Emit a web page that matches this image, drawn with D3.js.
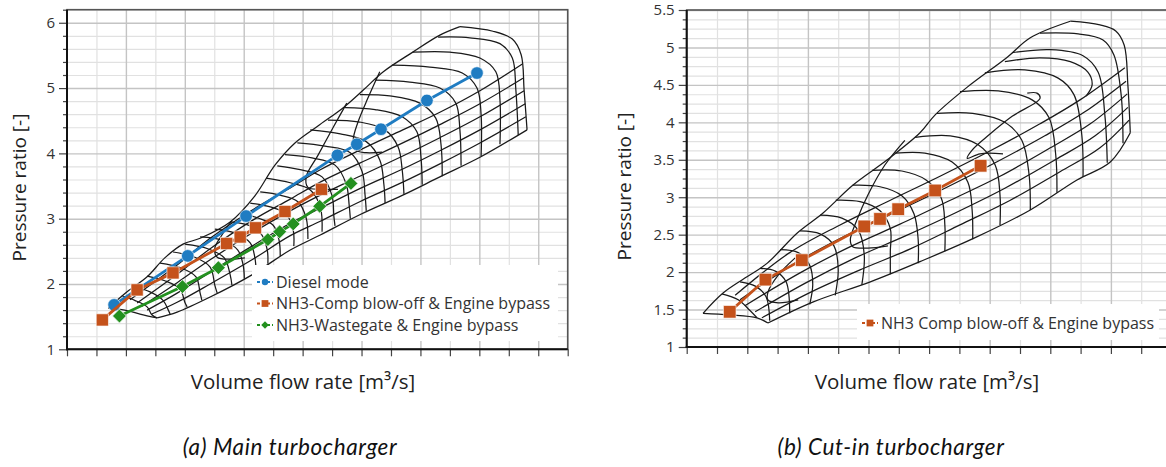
<!DOCTYPE html>
<html>
<head>
<meta charset="utf-8">
<script src="https://cdn.jsdelivr.net/npm/d3@7"></script>
<style>
  body { margin: 0; background: #fff; }
  text { font-family: "Open Sans", "Noto Sans", sans-serif; }
  .caption { font-family: Lato, "Open Sans", sans-serif; font-style: italic; letter-spacing: 0.6px; }
</style>
</head>
<body>
<svg id="chart" width="1166" height="467"></svg>
<script>
// ---------- axis ticks ----------
const mainYTicks = [1, 2, 3, 4, 5, 6];
const cutinYTicks = [1, 1.5, 2, 2.5, 3, 3.5, 4, 4.5, 5, 5.5];

// ---------- operating lines (x in axis units, y = pressure ratio) ----------
const mainDiesel = [[0.80,1.68],[2.05,2.43],[3.04,3.04],[4.59,3.97],[4.92,4.14],[5.33,4.37],[6.11,4.81],[6.96,5.23]];
const mainBlowOff = [[0.60,1.45],[1.19,1.91],[1.80,2.17],[2.71,2.62],[2.94,2.72],[3.20,2.86],[3.70,3.11],[4.32,3.45]];
const mainWastegate = [[0.89,1.51],[1.96,1.96],[2.57,2.25],[3.41,2.68],[3.61,2.80],[3.84,2.92],[4.29,3.19],[4.82,3.54]];
const cutinBlowOff = [[0.71,1.47],[1.30,1.90],[1.90,2.16],[2.93,2.61],[3.19,2.71],[3.49,2.84],[4.10,3.09],[4.85,3.42]];

const mainLegend = ["Diesel mode", "NH3-Comp blow-off & Engine bypass", "NH3-Wastegate & Engine bypass"];
const cutinLegend = ["NH3 Comp blow-off & Engine bypass"];

// ---------- main turbocharger compressor map ----------
const mainSurge = [[0.70,1.63],[1.02,1.88],[1.36,2.11],[1.66,2.40],[1.97,2.61],[2.26,2.70],[2.77,2.95],[3.19,3.35],[3.53,3.82],[3.87,4.16],[4.26,4.42],[4.69,4.70],[5.03,4.97],[5.37,5.25],[5.87,5.55],[6.33,5.81],[6.67,5.94]];

const mainSpeedLines = [
  [[6.67,5.94],[7.23,5.87],[7.56,5.75],[7.71,5.51],[7.76,4.97],[7.81,4.36]],
  [[6.30,5.78],[6.84,5.77],[7.35,5.68],[7.56,5.46],[7.62,4.97],[7.66,4.28]],
  [[5.87,5.55],[6.50,5.55],[7.01,5.46],[7.28,5.25],[7.35,4.82],[7.35,4.14]],
  [[5.52,5.35],[6.16,5.32],[6.71,5.23],[6.96,5.00],[7.03,4.59],[7.03,3.96]],
  [[5.23,5.12],[5.82,5.09],[6.33,5.00],[6.60,4.77],[6.67,4.36],[6.69,3.81]],
  [[4.97,4.90],[5.48,4.88],[5.99,4.77],[6.26,4.54],[6.35,4.13],[6.37,3.65]],
  [[4.72,4.70],[5.23,4.67],[5.69,4.56],[5.94,4.33],[6.01,3.93],[6.03,3.52]],
  [[4.43,4.51],[4.97,4.48],[5.40,4.36],[5.62,4.10],[5.69,3.75],[5.72,3.38]],
  [[4.13,4.36],[4.64,4.30],[5.08,4.18],[5.31,3.90],[5.38,3.52],[5.40,3.24]],
  [[3.91,4.16],[4.38,4.11],[4.81,4.01],[5.01,3.72],[5.06,3.36],[5.08,3.12]],
  [[3.70,3.98],[4.16,3.93],[4.55,3.82],[4.74,3.53],[4.79,3.21],[4.81,3.00]],
  [[3.57,3.81],[3.96,3.75],[4.33,3.64],[4.50,3.35],[4.53,3.04],[4.55,2.89]],
  [[3.38,3.62],[3.79,3.55],[4.13,3.44],[4.30,3.18],[4.33,2.80]],
  [[3.28,3.41],[3.62,3.36],[3.92,3.26],[4.06,3.01],[4.09,2.69]],
  [[3.11,3.24],[3.45,3.18],[3.72,3.07],[3.84,2.83],[3.85,2.58]],
  [[2.94,3.09],[3.24,3.01],[3.50,2.90],[3.60,2.67],[3.62,2.43]],
  [[2.77,2.95],[3.11,2.89],[3.31,2.75],[3.40,2.52],[3.41,2.31]],
  [[2.51,2.84],[2.85,2.78],[3.11,2.63],[3.19,2.40],[3.21,2.19]],
  [[2.26,2.72],[2.63,2.67],[2.90,2.52],[2.99,2.29],[3.01,2.08]],
  [[2.00,2.61],[2.39,2.54],[2.67,2.40],[2.77,2.14],[2.80,1.98]],
  [[1.80,2.49],[2.17,2.41],[2.43,2.26],[2.51,1.98],[2.55,1.86]],
  [[1.58,2.32],[1.92,2.25],[2.19,2.11],[2.26,1.86],[2.29,1.75]],
  [[1.36,2.12],[1.66,2.05],[1.92,1.92],[2.00,1.72],[2.04,1.65]],
  [[1.15,1.95],[1.41,1.88],[1.63,1.75],[1.72,1.60],[1.75,1.54]],
  [[0.93,1.82],[1.15,1.75],[1.36,1.65],[1.44,1.53],[1.53,1.48]],
  [[0.70,1.63],[0.98,1.60],[1.24,1.54],[1.53,1.48]]
];

const mainBetaLines = [
  [[7.81,4.36],[7.01,3.94],[6.33,3.64],[5.70,3.36],[4.97,3.06],[4.30,2.75],[3.79,2.52],[3.14,2.14],[2.43,1.80],[1.87,1.57],[1.53,1.48]],
  [[7.79,4.56],[7.01,4.16],[6.33,3.84],[5.70,3.56],[4.97,3.26],[4.30,2.96],[3.79,2.74],[3.14,2.37],[2.43,2.00],[1.87,1.72],[1.44,1.54]],
  [[7.78,4.76],[7.01,4.36],[6.33,4.04],[5.70,3.76],[4.97,3.46],[4.30,3.16],[3.79,2.93],[3.14,2.58],[2.43,2.18],[1.87,1.86],[1.36,1.60]],
  [[7.76,4.96],[7.01,4.56],[6.33,4.24],[5.70,3.96],[4.97,3.65],[4.30,3.36],[3.79,3.12],[3.14,2.78],[2.43,2.37],[1.87,2.02],[1.27,1.66]],
  [[7.74,5.15],[7.01,4.76],[6.33,4.44],[5.70,4.16],[4.97,3.85],[4.30,3.56],[3.79,3.30],[3.14,2.97],[2.43,2.54],[1.87,2.15],[1.19,1.71]],
  [[7.73,5.37],[7.01,4.96],[6.33,4.63],[5.70,4.36],[4.97,4.05],[4.30,3.75],[3.79,3.47],[3.14,3.13],[2.43,2.70],[1.87,2.29],[1.07,1.76]]
];

const mainContours = [
  [[4.75,4.77],[4.52,4.40],[4.26,3.97],[4.06,3.64],[4.09,3.48],[4.30,3.45],[4.60,3.45]],
  [[5.31,5.25],[5.11,4.85],[4.94,4.48],[4.86,4.21],[4.91,4.05],[5.08,4.01],[5.35,4.02]],
  [[2.80,2.97],[2.63,2.75],[2.51,2.55],[2.55,2.41],[2.77,2.38],[3.02,2.40]]
];

// ---------- cut-in turbocharger compressor map ----------
const cutinSurge = [[0.27,1.45],[0.60,1.72],[0.96,1.92],[1.33,2.12],[1.82,2.52],[2.25,2.79],[2.74,3.16],[3.31,3.50],[3.85,3.86],[4.10,4.10],[4.63,4.47],[5.29,4.87],[5.67,5.13],[6.33,5.35]];

const cutinSpeedLines = [
  [[6.33,5.35],[6.82,5.30],[7.08,5.22],[7.22,5.03],[7.28,4.50],[7.32,3.86]],
  [[5.83,5.19],[6.46,5.18],[6.87,5.10],[7.05,4.90],[7.17,4.36],[7.20,3.72]],
  [[5.37,4.93],[6.00,4.97],[6.54,4.89],[6.79,4.67],[6.90,4.10],[6.94,3.46]],
  [[4.92,4.66],[5.58,4.70],[6.13,4.59],[6.39,4.37],[6.52,3.83],[6.54,3.27]],
  [[4.51,4.41],[5.14,4.42],[5.70,4.30],[5.98,4.06],[6.09,3.56],[6.11,3.06]],
  [[4.13,4.12],[4.72,4.12],[5.25,4.00],[5.53,3.76],[5.65,3.30],[5.67,2.83]],
  [[3.77,3.80],[4.35,3.82],[4.81,3.70],[5.09,3.43],[5.17,3.03],[5.17,2.63]],
  [[3.44,3.59],[3.93,3.59],[4.38,3.47],[4.64,3.20],[4.71,2.83],[4.72,2.44]],
  [[3.06,3.36],[3.55,3.35],[3.95,3.23],[4.20,2.99],[4.26,2.63],[4.26,2.28]],
  [[2.74,3.16],[3.19,3.14],[3.55,3.02],[3.75,2.78],[3.82,2.43],[3.82,2.12]],
  [[2.46,2.96],[2.86,2.94],[3.19,2.82],[3.36,2.58],[3.36,2.27],[3.36,1.97]],
  [[2.20,2.76],[2.56,2.72],[2.83,2.56],[2.93,2.23],[2.89,1.83]],
  [[1.87,2.55],[2.20,2.51],[2.43,2.35],[2.50,2.03],[2.45,1.69]],
  [[1.54,2.30],[1.84,2.26],[2.03,2.09],[2.08,1.83],[2.03,1.57]],
  [[1.21,2.05],[1.47,2.01],[1.64,1.87],[1.70,1.45]],
  [[0.88,1.87],[1.14,1.81],[1.31,1.67],[1.37,1.35]],
  [[0.58,1.71],[0.85,1.63],[1.04,1.49],[1.16,1.39]],
  [[0.27,1.45],[0.71,1.43],[1.16,1.39],[1.34,1.32]]
];

const cutinBetaLines = [
  [[7.32,3.86],[6.99,3.47],[6.44,3.23],[5.67,2.83],[4.76,2.46],[3.85,2.14],[3.03,1.87],[2.08,1.60],[1.34,1.32]],
  [[7.30,4.03],[6.82,3.66],[6.16,3.34],[5.34,2.96],[4.51,2.63],[3.69,2.31],[2.86,2.03],[2.04,1.73],[1.24,1.39]],
  [[7.28,4.20],[6.74,3.82],[6.08,3.50],[5.25,3.12],[4.43,2.79],[3.60,2.48],[2.78,2.19],[1.95,1.85],[1.13,1.47]],
  [[7.27,4.38],[6.66,3.98],[6.00,3.66],[5.17,3.28],[4.35,2.96],[3.52,2.64],[2.70,2.34],[1.87,1.99],[0.96,1.55]],
  [[7.25,4.55],[6.57,4.14],[5.91,3.82],[5.09,3.46],[4.26,3.12],[3.44,2.80],[2.61,2.48],[1.79,2.12],[0.88,1.63]],
  [[7.23,4.73],[6.49,4.30],[5.83,3.98],[5.01,3.62],[4.18,3.28],[3.36,2.96],[2.53,2.63],[1.70,2.26],[0.80,1.69]]
];

const cutinContours = [
  [[5.25,4.81],[5.83,4.86],[6.33,4.81],[6.62,4.67],[6.69,4.50],[6.59,4.35]],
  [[5.62,4.39],[5.78,4.39],[5.83,4.32],[5.37,4.08],[5.00,3.84],[4.71,3.63],[4.63,3.52],[4.84,3.58],[5.22,3.58]],
  [[3.60,3.76],[3.27,3.43],[2.99,3.03],[2.81,2.70],[2.70,2.43],[2.74,2.34],[2.99,2.32],[3.32,2.35]],
  [[1.79,2.19],[1.51,1.96],[1.34,1.73],[1.34,1.63],[1.51,1.59],[1.84,1.63]]
];

// ---------- drawing ----------
const svg = d3.select("#chart");
const blue = "#1f7cc2", orange = "#c5521b", green = "#23901f";

function drawPanel(p) {
  const x = d3.scaleLinear().domain([0, p.xMax]).range([p.left, p.right]);
  const y = d3.scaleLinear().domain([1, p.yMax]).range([p.bottom, p.top]);
  const w = p.right - p.left, h = p.bottom - p.top;
  const g = svg.append("g");

  const xHalf = d3.range(0, p.xMax + 0.001, 0.5);
  const xMinor = xHalf.filter(v => v % 1 !== 0);
  const xMajor = xHalf.filter(v => v % 1 === 0 && v > 0);
  const yMinor = d3.range(1, p.yMax + 0.001, p.yStep).filter(v => !p.yTicks.some(t => Math.abs(t - v) < 1e-6));

  // grid lines
  function grid(axis, values, tr, color, width) {
    const gg = g.append("g").attr("transform", tr).call(axis.tickValues(values).tickFormat(""));
    gg.select(".domain").remove();
    gg.selectAll("line").attr("stroke", color).attr("stroke-width", width);
  }
  grid(d3.axisBottom(x).tickSize(-h), xMinor, `translate(0,${p.bottom})`, "#e1e1e1", 1.2);
  grid(d3.axisLeft(y).tickSize(-w), yMinor, `translate(${p.left},0)`, "#e1e1e1", 1.2);
  grid(d3.axisBottom(x).tickSize(-h), xMajor, `translate(0,${p.bottom})`, "#c4c4c4", 1.4);
  grid(d3.axisLeft(y).tickSize(-w), p.yTicks.slice(1), `translate(${p.left},0)`, "#c4c4c4", 1.4);

  // compressor map
  const curve = d3.line().x(d => x(d[0])).y(d => y(d[1])).curve(d3.curveCatmullRom.alpha(0.5));
  const map = g.append("g").attr("fill", "none").attr("stroke", "#1a1a1a").attr("stroke-width", 1.25);
  map.selectAll("path.speed").data(p.speedLines).join("path").attr("class", "speed").attr("d", curve);
  map.selectAll("path.beta").data(p.betaLines).join("path").attr("class", "beta").attr("d", curve);
  map.selectAll("path.eff").data(p.contours).join("path").attr("class", "eff").attr("d", curve);
  map.append("path").datum(p.surge).attr("d", curve);

  // operating lines
  const straight = d3.line().x(d => x(d[0])).y(d => y(d[1]));
  p.series.forEach(s => {
    g.append("path").datum(s.values)
      .attr("d", straight).attr("fill", "none")
      .attr("stroke", s.color).attr("stroke-width", 2.8);
    g.selectAll(null).data(s.values).join("path")
      .attr("transform", d => `translate(${x(d[0])},${y(d[1])}) rotate(${s.rotate || 0})`)
      .attr("d", d3.symbol().type(s.symbol).size(s.size))
      .attr("fill", s.color)
      .attr("stroke", "rgba(255,255,255,0.8)").attr("stroke-width", 0.8);
  });

  // legend
  const lg = p.legend;
  g.append("rect").attr("x", lg.x).attr("y", lg.y).attr("width", lg.w).attr("height", lg.h).attr("fill", "#fff");
  p.series.forEach((s, i) => {
    const cy = lg.y + lg.first + i * lg.gap;
    g.append("line").attr("x1", lg.x + 5).attr("x2", lg.x + 21).attr("y1", cy).attr("y2", cy)
      .attr("stroke", s.color).attr("stroke-width", 2).attr("stroke-dasharray", "3,2");
    g.append("path").attr("transform", `translate(${lg.x + 13},${cy}) rotate(${s.rotate || 0})`)
      .attr("d", d3.symbol().type(s.symbol).size(s.legendSize)).attr("fill", s.color);
    g.append("text").attr("x", lg.x + 24).attr("y", cy + 5.5)
      .attr("font-size", 16).attr("fill", "#333").text(lg.labels[i]);
  });

  // axes
  const yAx = g.append("g").attr("transform", `translate(${p.left},0)`)
    .call(d3.axisLeft(y).tickValues(p.yTicks).tickSize(8).tickPadding(4).tickFormat(d3.format("~g")));
  yAx.selectAll("text").attr("font-size", 15).attr("fill", "#333");
  const yAxMinor = g.append("g").attr("transform", `translate(${p.left},0)`)
    .call(d3.axisLeft(y).tickValues(yMinor).tickSize(4).tickFormat(""));
  const xAx = g.append("g").attr("transform", `translate(0,${p.bottom})`)
    .call(d3.axisBottom(x).tickValues(xHalf).tickSize(7).tickFormat(""));
  [yAx, yAxMinor, xAx].forEach(a => {
    a.select(".domain").remove();
    a.selectAll("line").attr("stroke", "#444").attr("stroke-width", 1.2);
  });

  g.append("rect").attr("x", p.left).attr("y", p.top).attr("width", w).attr("height", h)
    .attr("fill", "none").attr("stroke", "#555").attr("stroke-width", 1.6);
  g.append("line").attr("x1", p.left).attr("x2", p.left).attr("y1", p.top).attr("y2", p.bottom + 1)
    .attr("stroke", "#111").attr("stroke-width", 2);
  g.append("line").attr("x1", p.left - 1).attr("x2", p.right).attr("y1", p.bottom).attr("y2", p.bottom)
    .attr("stroke", "#111").attr("stroke-width", 2);

  // titles
  g.append("text").attr("transform", `translate(${p.yTitleX},${(p.top + p.bottom) / 2 + 8}) rotate(-90)`)
    .attr("text-anchor", "middle").attr("font-size", 19).attr("fill", "#222").text("Pressure ratio [-]");
  g.append("text").attr("x", p.xTitleX).attr("y", 389)
    .attr("text-anchor", "middle").attr("font-size", 20.5).attr("fill", "#222").text("Volume flow rate [m³/s]");
  g.append("text").attr("class", "caption").attr("x", p.captionX).attr("y", 455)
    .attr("text-anchor", "middle").attr("font-size", 22.5).attr("fill", "#111").text(p.caption);
}

drawPanel({
  left: 67, right: 567.7, top: 9.7, bottom: 349.3, xMax: 8.5, yMax: 6.2, yStep: 0.2,
  yTicks: mainYTicks,
  speedLines: mainSpeedLines, betaLines: mainBetaLines, contours: mainContours, surge: mainSurge,
  series: [
    { values: mainDiesel, color: blue, symbol: d3.symbolCircle, size: 125, legendSize: 32 },
    { values: mainBlowOff, color: orange, symbol: d3.symbolSquare, size: 150, legendSize: 46 },
    { values: mainWastegate, color: green, symbol: d3.symbolSquare, size: 95, legendSize: 28, rotate: 45 }
  ],
  legend: { x: 252, y: 265, w: 306, h: 76, first: 17, gap: 21.5, labels: mainLegend },
  yTitleX: 26, xTitleX: 303, captionX: 290, caption: "(a) Main turbocharger"
});

drawPanel({
  left: 686.7, right: 1171.5, top: 10, bottom: 347, xMax: 8, yMax: 5.5, yStep: 0.125,
  yTicks: cutinYTicks,
  speedLines: cutinSpeedLines, betaLines: cutinBetaLines, contours: cutinContours, surge: cutinSurge,
  series: [
    { values: cutinBlowOff, color: orange, symbol: d3.symbolSquare, size: 160, legendSize: 46 }
  ],
  legend: { x: 857, y: 304, w: 302, h: 36, first: 19, gap: 21, labels: cutinLegend },
  yTitleX: 631, xTitleX: 927, captionX: 891, caption: "(b) Cut-in turbocharger"
});
</script>
</body>
</html>
